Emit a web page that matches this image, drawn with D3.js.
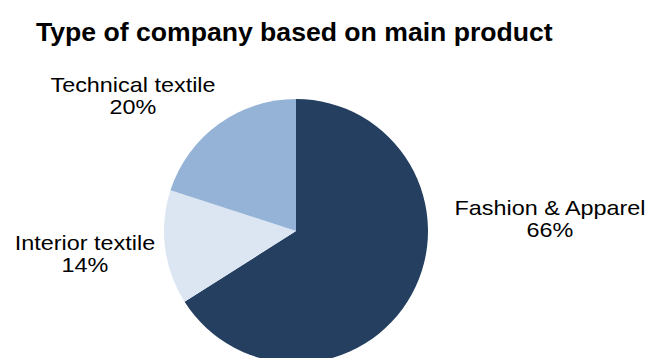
<!DOCTYPE html>
<html>
<head>
<meta charset="utf-8">
<script src="https://cdn.jsdelivr.net/npm/d3@7"></script>
<style>
  html, body { margin: 0; padding: 0; background: #ffffff; }
  svg { display: block; }
  text { font-family: "Liberation Sans", Arial, sans-serif; fill: #000; }
</style>
</head>
<body>
<svg id="chart" width="651" height="358"></svg>
<script>
// Share of companies by main product (percent)
const categories = ["Fashion & Apparel", "Interior textile", "Technical textile"];
const shares = [66, 14, 20];
const colors = ["#243F60", "#DCE6F2", "#95B3D7"];

const width = 651, height = 358;
const cx = 296, cy = 231, radius = 132;

const svg = d3.select("#chart");

svg.append("text")
  .attr("x", 36)
  .attr("y", 41)
  .attr("font-size", 26.6)
  .attr("font-weight", "bold")
  .text("Type of company based on main product");

const data = categories.map((c, i) => ({ name: c, value: shares[i], color: colors[i] }));

const pie = d3.pie().sort(null).value(d => d.value).startAngle(0).endAngle(2 * Math.PI);
const arc = d3.arc().innerRadius(0).outerRadius(radius);

const g = svg.append("g").attr("transform", `translate(${cx},${cy})`);

g.selectAll("path")
  .data(pie(data))
  .join("path")
  .attr("d", arc)
  .attr("fill", d => d.data.color);

// Label anchors (centre of the two-line label, relative to the pie centre)
const labelOffset = {
  "Fashion & Apparel": [254, -12],
  "Interior textile": [-211, 23],
  "Technical textile": [-163, -135]
};
const lineGap = 23;
const labelSize = 20;

const labels = svg.append("g")
  .selectAll("text")
  .data(data)
  .join("text")
  .attr("text-anchor", "middle")
  .attr("font-size", labelSize)
  .attr("transform", d => {
    const o = labelOffset[d.name];
    return `translate(${cx + o[0]},${cy + o[1]}) scale(1.17,1)`;
  });

labels.append("tspan")
  .attr("x", 0)
  .attr("y", -lineGap / 2 + 7)
  .text(d => d.name);
labels.append("tspan")
  .attr("x", 0)
  .attr("y", lineGap / 2 + 7)
  .text(d => d.value + "%");
</script>
</body>
</html>
